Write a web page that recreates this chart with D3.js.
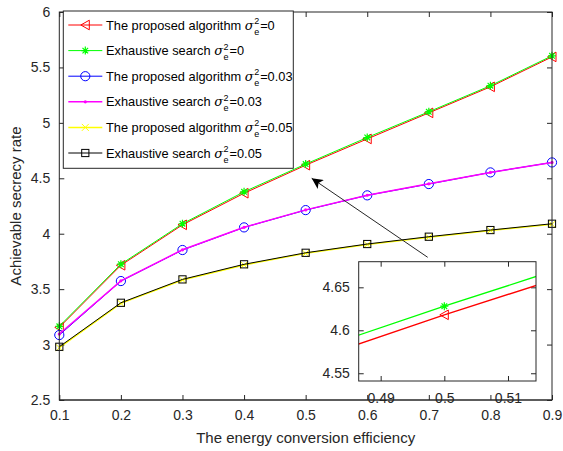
<!DOCTYPE html>
<html>
<head>
<meta charset="utf-8">
<script src="https://cdn.jsdelivr.net/npm/d3@7"></script>
<style>
	body { margin: 0; background: #fff; }
	svg { display: block; font-family: "Liberation Sans", Arial, Helvetica, sans-serif; }
	.tick text { fill: #262626; }
</style>
</head>
<body>
<div id="chart"></div>
<script>

// data
// ----------------------------------------

var efficiency = [0.1, 0.2, 0.3, 0.4, 0.5, 0.6, 0.7, 0.8, 0.9];

var proposed_0 = [3.155, 3.715, 4.080, 4.365, 4.618, 4.855, 5.090, 5.325, 5.595];
var exhaustive_0 = [3.165, 3.725, 4.090, 4.378, 4.628, 4.868, 5.100, 5.335, 5.605];
var proposed_003 = [3.086, 3.573, 3.853, 4.057, 4.213, 4.346, 4.448, 4.553, 4.643];
var exhaustive_003 = [3.095, 3.575, 3.855, 4.058, 4.215, 4.347, 4.450, 4.553, 4.643];
var proposed_005 = [2.972, 3.372, 3.583, 3.718, 3.823, 3.902, 3.968, 4.028, 4.085];
var exhaustive_005 = [2.980, 3.377, 3.588, 3.724, 3.828, 3.907, 3.973, 4.033, 4.090];

var x_ticks = [0.1, 0.2, 0.3, 0.4, 0.5, 0.6, 0.7, 0.8, 0.9];
var y_ticks = [2.5, 3, 3.5, 4, 4.5, 5, 5.5, 6];
var inset_x_ticks = [0.49, 0.5, 0.51];
var inset_y_ticks = [4.55, 4.6, 4.65];

var series = [
	{name: "The proposed algorithm", val: "=0", values: proposed_0, color: "#ff0000", marker: "triangle"},
	{name: "Exhaustive search", val: "=0", values: exhaustive_0, color: "#00ff00", marker: "star"},
	{name: "The proposed algorithm", val: "=0.03", values: proposed_003, color: "#0000ff", marker: "circle"},
	{name: "Exhaustive search", val: "=0.03", values: exhaustive_003, color: "#ff00ff", marker: "dot"},
	{name: "The proposed algorithm", val: "=0.05", values: proposed_005, color: "#ffff00", marker: "cross"},
	{name: "Exhaustive search", val: "=0.05", values: exhaustive_005, color: "#000000", marker: "square"}
];

// main variables
// ----------------------------------------

var width = 563, height = 451;
var box = {left: 59.3, right: 552, top: 12, bottom: 400};
var inset = {left: 358.7, right: 536, top: 261.7, bottom: 381};

var svg = d3.select("#chart")
	.append("svg")
	.attr("width", width)
	.attr("height", height);

var x = d3.scaleLinear().domain([0.1, 0.9]).range([box.left, box.right]);
var y = d3.scaleLinear().domain([2.5, 6]).range([box.bottom, box.top]);

// draw a marker at (0,0)
function marker(g, type, color) {
	if (type == "triangle") {
		g.append("path").attr("d", "M-4.5,0L4,-4.8L4,4.8Z")
			.attr("fill", "none").attr("stroke", color).attr("stroke-width", 1);
	} else if (type == "star") {
		var s = 4;
		g.append("path")
			.attr("d", "M" + (-s) + ",0L" + s + ",0M0," + (-s) + "L0," + s +
				"M" + (-s * 0.7) + "," + (-s * 0.7) + "L" + (s * 0.7) + "," + (s * 0.7) +
				"M" + (-s * 0.7) + "," + (s * 0.7) + "L" + (s * 0.7) + "," + (-s * 0.7))
			.attr("stroke", color).attr("stroke-width", 1.2);
	} else if (type == "circle") {
		g.append("circle").attr("r", 4.6)
			.attr("fill", "none").attr("stroke", color).attr("stroke-width", 1);
	} else if (type == "dot") {
		g.append("circle").attr("r", 1.6).attr("fill", color);
	} else if (type == "cross") {
		var c = 3.5;
		g.append("path")
			.attr("d", "M" + (-c) + "," + (-c) + "L" + c + "," + c + "M" + (-c) + "," + c + "L" + c + "," + (-c))
			.attr("stroke", color).attr("stroke-width", 1);
	} else if (type == "square") {
		g.append("rect").attr("x", -3.6).attr("y", -3.6).attr("width", 7.2).attr("height", 7.2)
			.attr("fill", "none").attr("stroke", color).attr("stroke-width", 1);
	}
}

function draw_axes(g, xs, ys, xt, yt, b, fmt_x, fmt_y, font, pad_x) {
	g.append("rect")
		.attr("x", b.left).attr("y", b.top)
		.attr("width", b.right - b.left).attr("height", b.bottom - b.top)
		.attr("fill", "#fff");

	var bottom = g.append("g")
		.attr("transform", "translate(0," + b.bottom + ")")
		.call(d3.axisBottom(xs).tickValues(xt).tickSize(-5).tickPadding(pad_x).tickFormat(fmt_x));
	var top = g.append("g")
		.attr("transform", "translate(0," + b.top + ")")
		.call(d3.axisTop(xs).tickValues(xt).tickSize(-5).tickFormat(""));
	var left = g.append("g")
		.attr("transform", "translate(" + b.left + ",0)")
		.call(d3.axisLeft(ys).tickValues(yt).tickSize(-5).tickPadding(9).tickFormat(fmt_y));
	var right = g.append("g")
		.attr("transform", "translate(" + b.right + ",0)")
		.call(d3.axisRight(ys).tickValues(yt).tickSize(-5).tickFormat(""));

	[bottom, top, left, right].forEach(function(a){
		a.select(".domain").remove();
		a.selectAll("line").attr("stroke", "#262626");
		a.selectAll("text").attr("font-size", font).attr("font-family", "Liberation Sans, Arial, sans-serif");
	});
}

// main plot
// ----------------------------------------

var main = svg.append("g");
draw_axes(main, x, y, x_ticks, y_ticks, box, d3.format(".1f"), function(d){ return d; }, 14, 10);

var line = d3.line()
	.x(function(d, i){ return x(efficiency[i]); })
	.y(function(d){ return y(d); });

series.forEach(function(s){
	var g = main.append("g");
	g.append("path")
		.datum(s.values)
		.attr("d", line)
		.attr("fill", "none")
		.attr("stroke", s.color)
		.attr("stroke-width", s.marker == "dot" || s.marker == "cross" ? 1.5 : 1);
	s.values.forEach(function(v, i){
		var m = g.append("g").attr("transform", "translate(" + x(efficiency[i]) + "," + y(v) + ")");
		marker(m, s.marker, s.color);
	});
});

main.append("rect")
	.attr("x", box.left).attr("y", box.top)
	.attr("width", box.right - box.left).attr("height", box.bottom - box.top)
	.attr("fill", "none").attr("stroke", "#262626").attr("stroke-width", 1);

// axis labels
svg.append("text")
	.attr("x", (box.left + box.right) / 2)
	.attr("y", 443)
	.attr("text-anchor", "middle")
	.attr("font-size", 15)
	.attr("fill", "#262626")
	.text("The energy conversion efficiency");

svg.append("text")
	.attr("transform", "translate(21," + ((box.top + box.bottom) / 2) + ") rotate(-90)")
	.attr("text-anchor", "middle")
	.attr("font-size", 15)
	.attr("fill", "#262626")
	.text("Achievable secrecy rate");

// legend
// ----------------------------------------

var legend = svg.append("g");
legend.append("rect")
	.attr("x", 63.3).attr("y", 11).attr("width", 230).attr("height", 157.3)
	.attr("fill", "#fff").attr("stroke", "#262626").attr("stroke-width", 1);

series.forEach(function(s, i){
	var cy = 25 + i * 25.6;
	var item = legend.append("g");
	item.append("line")
		.attr("x1", 68.3).attr("x2", 102.3).attr("y1", cy).attr("y2", cy)
		.attr("stroke", s.color).attr("stroke-width", s.marker == "dot" || s.marker == "cross" ? 1.5 : 1);
	marker(item.append("g").attr("transform", "translate(85.3," + cy + ")"), s.marker, s.color);

	var t = item.append("text")
		.attr("x", 106).attr("y", cy + 4.5)
		.attr("font-size", 12.8).attr("fill", "#000")
		.text(s.name);
	var w = t.node().getComputedTextLength();
	var sx = 106 + w + 3.6;
	var sig = item.append("text")
		.attr("x", sx).attr("y", cy + 4.5)
		.attr("font-size", 13).attr("font-style", "italic").attr("font-family", "DejaVu Serif, serif")
		.text("\u03c3");
	var sw = sig.node().getComputedTextLength();
	item.append("text")
		.attr("x", sx + sw + 0.5).attr("y", cy - 1)
		.attr("font-size", 9).text("2");
	item.append("text")
		.attr("x", sx + sw + 0.5).attr("y", cy + 9.5)
		.attr("font-size", 9).text("e");
	item.append("text")
		.attr("x", sx + sw + 6.5).attr("y", cy + 4.5)
		.attr("font-size", 12.8).text(s.val);
});

// arrow
// ----------------------------------------

svg.append("defs").append("marker")
	.attr("id", "arrow_head")
	.attr("viewBox", "0 0 10 10")
	.attr("refX", 10).attr("refY", 5)
	.attr("markerWidth", 13).attr("markerHeight", 11)
	.attr("markerUnits", "userSpaceOnUse")
	.attr("orient", "auto")
	.append("path").attr("d", "M0,0L10,5L0,10L2.5,5Z").attr("fill", "#000");

svg.append("line")
	.attr("x1", 427.7).attr("y1", 257.3)
	.attr("x2", 311.7).attr("y2", 178.3)
	.attr("stroke", "#262626").attr("stroke-width", 1)
	.attr("marker-end", "url(#arrow_head)");

// inset
// ----------------------------------------

var ix = d3.scaleLinear().domain([0.48655, 0.5144]).range([inset.left, inset.right]);
var iy = d3.scaleLinear().domain([4.541, 4.6798]).range([inset.bottom, inset.top]);

var ins = svg.append("g");
draw_axes(ins, ix, iy, inset_x_ticks, inset_y_ticks, inset, function(d){ return d; }, function(d){ return d; }, 14, 12);

svg.append("clipPath").attr("id", "inset_clip")
	.append("rect").attr("x", inset.left).attr("y", inset.top)
	.attr("width", inset.right - inset.left).attr("height", inset.bottom - inset.top);

var iline = d3.line()
	.x(function(d, i){ return ix(efficiency[i]); })
	.y(function(d){ return iy(d); });

var inner = ins.append("g").attr("clip-path", "url(#inset_clip)");
series.forEach(function(s){
	inner.append("path")
		.datum(s.values)
		.attr("d", iline)
		.attr("fill", "none")
		.attr("stroke", s.color)
		.attr("stroke-width", 1.3);
	s.values.forEach(function(v, i){
		if (efficiency[i] == 0.5 && v > 4.541 && v < 4.68) {
			marker(inner.append("g").attr("transform", "translate(" + ix(efficiency[i]) + "," + iy(v) + ")"), s.marker, s.color);
		}
	});
});

ins.append("rect")
	.attr("x", inset.left).attr("y", inset.top)
	.attr("width", inset.right - inset.left).attr("height", inset.bottom - inset.top)
	.attr("fill", "none").attr("stroke", "#262626").attr("stroke-width", 1);

// main x axis line passes over the inset tick labels, as in the figure
svg.append("line")
	.attr("x1", box.left).attr("x2", box.right)
	.attr("y1", box.bottom).attr("y2", box.bottom)
	.attr("stroke", "#262626").attr("stroke-width", 1);

</script>
</body>
</html>
